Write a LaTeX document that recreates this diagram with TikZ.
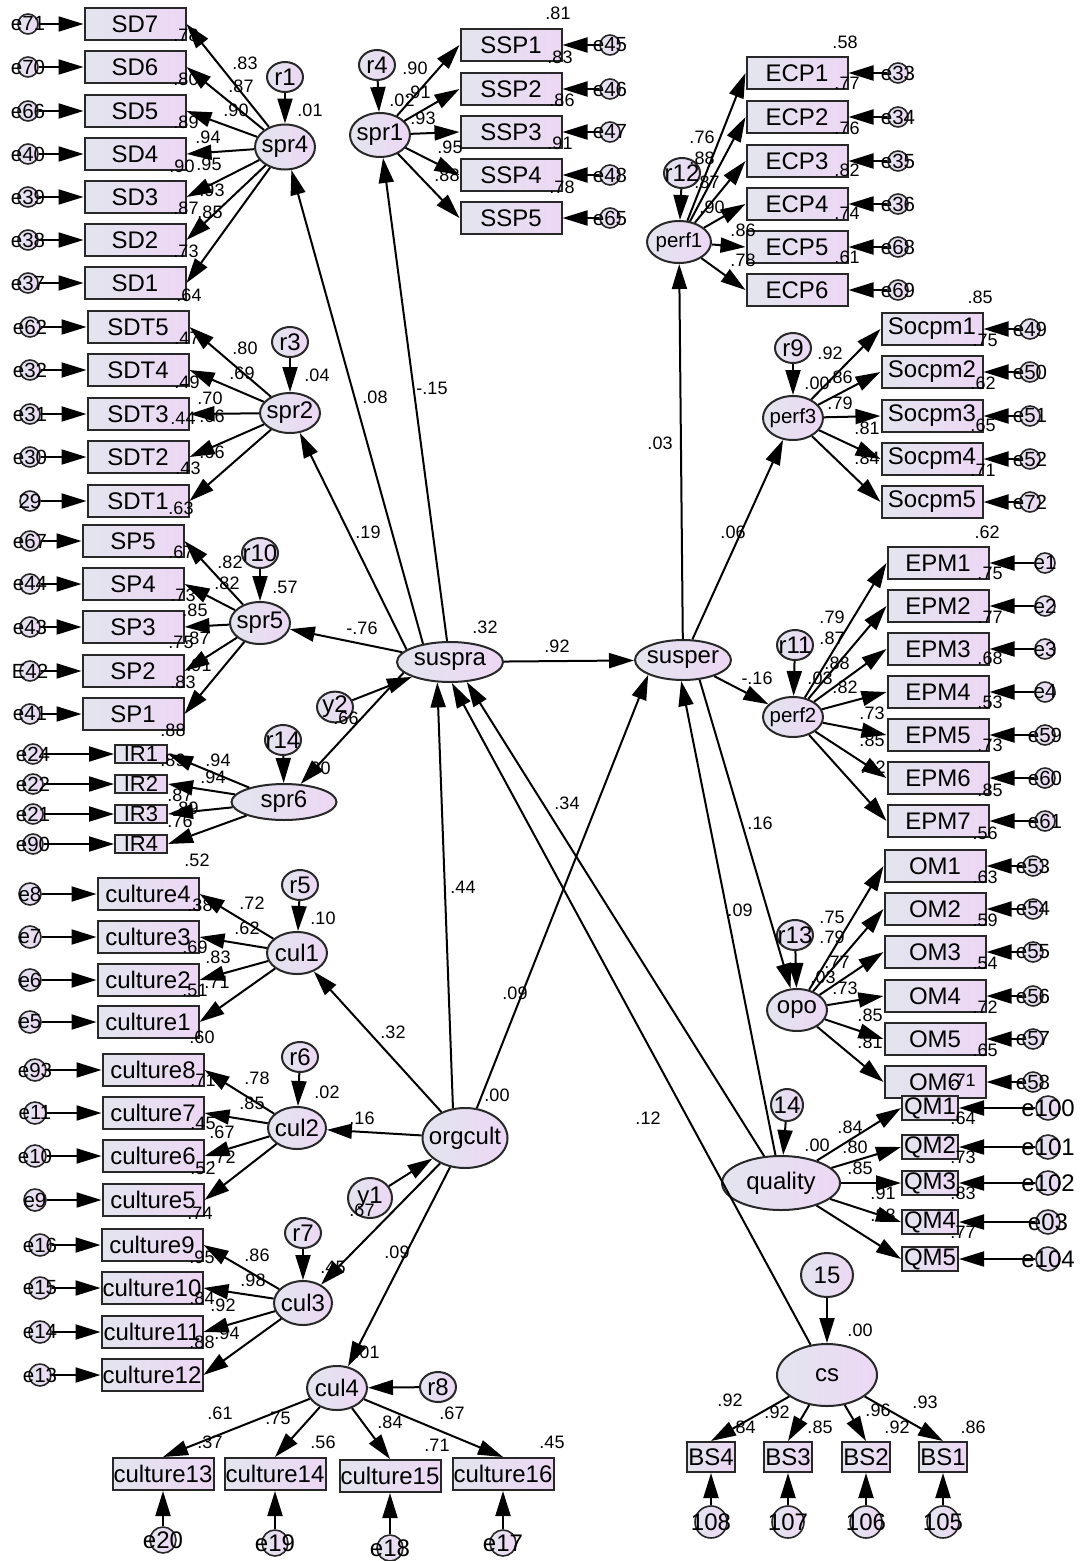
\documentclass[tikz,border=0pt]{standalone}
\usepackage{fontspec}
\setmainfont{Liberation Sans}
\usetikzlibrary{arrows.meta,shapes.geometric,shadings}
\definecolor{BoxL}{HTML}{E3E5EE}
\definecolor{BoxR}{HTML}{EDD7F4}
\definecolor{Edge}{HTML}{282828}
\newcommand{\zw}[1]{\makebox[0pt]{#1}}
\newcommand{\fsBig}{\fontsize{24}{26}\selectfont}
\newcommand{\fsMid}{\fontsize{20.5}{23}\selectfont}
\newcommand{\fsNum}{\fontsize{18}{20}\selectfont}
\tikzset{
  obs/.style={draw=Edge,line width=2pt,left color=BoxL,right color=BoxR,
    minimum width=101,minimum height=32,inner sep=0,font=\fsBig},
  lat/.style={ellipse,draw=Edge,line width=2pt,left color=BoxL,right color=BoxR,
    minimum width=60,minimum height=42,inner sep=0,font=\fsBig},
  res/.style={lat,minimum width=36,minimum height=30},
  err/.style={circle,draw=Edge,line width=1.6pt,left color=BoxL,right color=BoxR,
    minimum size=20,inner sep=0,font=\fsMid},
  arr/.style={-{Triangle[length=25pt,width=15pt]},line width=2pt},
  num/.style={font=\fsNum,inner sep=0}
}
\begin{document}
\begin{tikzpicture}[x=1pt,y=-1pt]
  \fill[white] (0,0) rectangle (1081,1561);
  \useasboundingbox (0,0) rectangle (1081,1561);

  % central latent variables
  \node[lat,minimum width=106,minimum height=40] (suspra) at (450,662) {\zw{suspra}};
  \node[lat,minimum width=96,minimum height=40] (susper) at (683,660) {\zw{susper}};
  \node[lat,minimum width=85,minimum height=60] (orgcult) at (465,1138) {\zw{orgcult}};
  \node[lat,minimum width=118,minimum height=54] (quality) at (781,1183) {\zw{quality}};
  \node[lat,minimum width=100,minimum height=62] (cs) at (827,1375) {\zw{cs}};
  \node[res] (y2) at (335,707) {\zw{y2}};
  \node[res,minimum width=44,minimum height=40] (y1) at (370,1198) {\zw{y1}};
  \node[res,minimum width=32,minimum height=32] (z14) at (787,1105) {\zw{14}};
  \node[res,minimum width=52,minimum height=44] (z15) at (827,1275) {\zw{15}};

  % spr4
  \node[lat,minimum height=45] (spr4) at (285,147) {\zw{spr4}};
  \node[res] (r1) at (285,77) {\zw{r1}};
  \draw[arr] (r1) -- (spr4);
  \foreach \n/\e/\y in {SD7/e71/24,SD6/e70/67,SD5/e66/111,SD4/e40/154,SD3/e39/197,SD2/e38/240,SD1/e37/283}{
    \node[obs] (\n) at (135,\y) {\zw{\n}};
    \node[err] (\n-e) at (28,\y) {\zw{\e}};
    \draw[arr] (\n-e) -- (\n);
    \draw[arr] (spr4) -- (\n.east);
  }

  % spr2
  \node[lat,minimum height=40] (spr2) at (290,413) {\zw{spr2}};
  \node[res] (r3) at (290,342) {\zw{r3}};
  \draw[arr] (r3) -- (spr2);
  \foreach \n/\e/\y in {SDT5/e62/327,SDT4/e32/370,SDT3/e31/414,SDT2/e30/457,SDT1/29/501}{
    \node[obs] (\n) at (138,\y) {\zw{\n}};
    \node[err] (\n-e) at (30,\y) {\zw{\e}};
    \draw[arr] (\n-e) -- (\n);
    \draw[arr] (spr2) -- (\n.east);
  }

  % spr5
  \node[lat] (spr5) at (260,623) {\zw{spr5}};
  \node[res] (r10) at (260,553) {\zw{r10}};
  \draw[arr] (r10) -- (spr5);
  \foreach \n/\e/\y in {SP5/e67/541,SP4/e44/584,SP3/e43/627,SP2/E42/671,SP1/e41/714}{
    \node[obs] (\n) at (133,\y) {\zw{\n}};
    \node[err] (\n-e) at (30,\y) {\zw{\e}};
    \draw[arr] (\n-e) -- (\n);
    \draw[arr] (spr5) -- (\n.east);
  }

  % spr6
  \node[lat,minimum width=105,minimum height=36] (spr6) at (284,802) {\zw{spr6}};
  \node[res] (r14) at (283,740) {\zw{r14}};
  \draw[arr] (r14) -- (spr6);
  \foreach \n/\e/\y in {IR1/e24/754,IR2/e22/784,IR3/e21/814,IR4/e90/844}{
    \node[obs,minimum width=52,minimum height=18,font=\fontsize{22}{24}\selectfont] (\n) at (141,\y) {\zw{\n}};
    \node[err] (\n-e) at (33,\y) {\zw{\e}};
    \draw[arr] (\n-e) -- (\n);
    \draw[arr] (spr6) -- (\n.east);
  }

  % spr1
  \node[lat,minimum height=44] (spr1) at (380,135) {\zw{spr1}};
  \node[res] (r4) at (377,65) {\zw{r4}};
  \draw[arr] (r4) -- (spr1);
  \foreach \n/\e/\y in {SSP1/e45/45,SSP2/e46/89,SSP3/e47/132,SSP4/e48/175,SSP5/e65/218}{
    \node[obs] (\n) at (511,\y) {\zw{\n}};
    \node[err] (\n-e) at (610,\y) {\zw{\e}};
    \draw[arr] (\n-e) -- (\n);
    \draw[arr] (spr1) -- (\n.west);
  }

  % perf1
  \node[lat,minimum width=64,font=\fsMid] (perf1) at (679,242) {\zw{perf1}};
  \node[res] (r12) at (682,173) {\zw{r12}};
  \draw[arr] (r12) -- (perf1);
  \foreach \n/\e/\y in {ECP1/e33/73,ECP2/e34/117,ECP3/e35/161,ECP4/e36/204,ECP5/e68/247,ECP6/e69/290}{
    \node[obs] (\n) at (797,\y) {\zw{\n}};
    \node[err] (\n-e) at (898,\y) {\zw{\e}};
    \draw[arr] (\n-e) -- (\n);
    \draw[arr] (perf1) -- (\n.west);
  }

  % perf3
  \node[lat,minimum height=44,font=\fsMid] (perf3) at (793,418) {\zw{perf3}};
  \node[res] (r9) at (793,348) {\zw{r9}};
  \draw[arr] (r9) -- (perf3);
  \foreach \n/\e/\y in {Socpm1/e49/329,Socpm2/e50/372,Socpm3/e51/416,Socpm4/e52/459,Socpm5/e72/502}{
    \node[obs] (\n) at (932,\y) {\zw{\n}};
    \node[err] (\n-e) at (1030,\y) {\zw{\e}};
    \draw[arr] (\n-e) -- (\n);
    \draw[arr] (perf3) -- (\n.west);
  }

  % perf2
  \node[lat,minimum height=40,font=\fsMid] (perf2) at (793,717) {\zw{perf2}};
  \node[res] (r11) at (795,645) {\zw{r11}};
  \draw[arr] (r11) -- (perf2);
  \foreach \n/\e/\y in {EPM1/e1/563,EPM2/e2/606,EPM3/e3/649,EPM4/e4/692,EPM5/e59/735,EPM6/e60/778,EPM7/e61/821}{
    \node[obs] (\n) at (938,\y) {\zw{\n}};
    \node[err] (\n-e) at (1045,\y) {\zw{\e}};
    \draw[arr] (\n-e) -- (\n);
    \draw[arr] (perf2) -- (\n.west);
  }

  % opo
  \node[lat] (opo) at (797,1010) {\zw{opo}};
  \node[res] (r13) at (795,935) {\zw{r13}};
  \draw[arr] (r13) -- (opo);
  \foreach \n/\e/\y in {OM1/e53/866,OM2/e54/909,OM3/e55/952,OM4/e56/996,OM5/e57/1039,OM6/e58/1082}{
    \node[obs] (\n) at (935,\y) {\zw{\n}};
    \node[err] (\n-e) at (1033,\y) {\zw{\e}};
    \draw[arr] (\n-e) -- (\n);
    \draw[arr] (opo) -- (\n.west);
  }

  % quality
  \draw[arr] (z14) -- (quality);
  \foreach \n/\e/\y in {QM1/e100/1108,QM2/e101/1147,QM3/e102/1183,QM4/e03/1222,QM5/e104/1259}{
    \node[obs,minimum width=56,minimum height=24] (\n) at (930,\y) {\zw{\n}};
    \node[err,minimum size=24,font=\fsBig] (\n-e) at (1048,\y) {\zw{\e}};
    \draw[arr] (\n-e) -- (\n);
    \draw[arr] (quality) -- (\n.west);
  }

  % cs
  \draw[arr] (z15) -- (cs);
  \foreach \n/\e/\x in {BS4/108/711,BS3/107/788,BS2/106/866,BS1/105/943}{
    \node[obs,minimum width=48,minimum height=30] (\n) at (\x,1457) {\zw{\n}};
    \node[err,minimum size=32,font=\fsBig] (\n-e) at (\x,1522) {\zw{\e}};
    \draw[arr] (\n-e) -- (\n);
    \draw[arr] (cs) -- (\n.north);
  }

  % cul1
  \node[lat] (cul1) at (297,953) {\zw{cul1}};
  \node[res] (r5) at (300,885) {\zw{r5}};
  \draw[arr] (r5) -- (cul1);
  \foreach \n/\e/\y in {culture4/e8/894,culture3/e7/937,culture2/e6/980,culture1/e5/1022}{
    \node[obs] (\n) at (148,\y) {\zw{\n}};
    \node[err,minimum size=22] (\n-e) at (30,\y) {\zw{\e}};
    \draw[arr] (\n-e) -- (\n);
    \draw[arr] (cul1) -- (\n.east);
  }

  % cul2
  \node[lat,minimum width=58] (cul2) at (297,1128) {\zw{cul2}};
  \node[res] (r6) at (300,1057) {\zw{r6}};
  \draw[arr] (r6) -- (cul2);
  \foreach \n/\e/\y in {culture8/e93/1070,culture7/e11/1113,culture6/e10/1156,culture5/e9/1200}{
    \node[obs] (\n) at (153,\y) {\zw{\n}};
    \node[err,minimum size=22] (\n-e) at (35,\y) {\zw{\e}};
    \draw[arr] (\n-e) -- (\n);
    \draw[arr] (cul2) -- (\n.east);
  }

  % cul3
  \node[lat,minimum width=58,minimum height=44] (cul3) at (303,1303) {\zw{cul3}};
  \node[res] (r7) at (303,1233) {\zw{r7}};
  \draw[arr] (r7) -- (cul3);
  \foreach \n/\e/\y in {culture9/e16/1245,culture10/e15/1288,culture11/e14/1332,culture12/e13/1375}{
    \node[obs] (\n) at (152,\y) {\zw{\n}};
    \node[err,minimum size=22] (\n-e) at (40,\y) {\zw{\e}};
    \draw[arr] (\n-e) -- (\n);
    \draw[arr] (cul3) -- (\n.east);
  }

  % cul4
  \node[lat,minimum height=44] (cul4) at (337,1388) {\zw{cul4}};
  \node[res] (r8) at (438,1387) {\zw{r8}};
  \draw[arr] (r8) -- (cul4);
  \foreach \n/\e/\x/\y/\ey in {culture13/e20/163/1474/1540,culture14/e19/275/1474/1543,culture15/e18/390/1476/1548,culture16/e17/503/1474/1543}{
    \node[obs] (\n) at (\x,\y) {\zw{\n}};
    \node[err,minimum size=26,font=\fsBig] (\n-e) at (\x,\ey) {\zw{\e}};
    \draw[arr] (\n-e) -- (\n);
    \draw[arr] (cul4) -- (\n.north);
  }

  % structural paths
  \draw[arr] (suspra) -- (susper);
  \draw[arr] (y2) -- (suspra);
  \draw[arr] (y1) -- (orgcult);
  \draw[arr] (suspra.146) -- (spr4);
  \draw[arr] (suspra.98) -- (spr1);
  \draw[arr] (suspra.164) -- (spr2);
  \draw[arr] (suspra) -- (spr5);
  \draw[arr] (suspra.193) -- (spr6);
  \draw[arr] (susper) -- (perf1);
  \draw[arr] (susper) -- (perf3);
  \draw[arr] (susper) -- (perf2);
  \draw[arr] (susper.310) -- (opo);
  \draw[arr] (orgcult.112) -- (suspra.238);
  \draw[arr] (quality) -- (suspra.310);
  \draw[arr] (cs) -- (suspra.275);
  \draw[arr] (orgcult) -- (susper.203);
  \draw[arr] (quality) -- (susper.265);
  \draw[arr] (orgcult) -- (cul1);
  \draw[arr] (orgcult) -- (cul2);
  \draw[arr] (orgcult) -- (cul3);
  \draw[arr] (orgcult) -- (cul4);

  % estimates
  \foreach \x/\y/\val [count=\k] in {245/63/.83,241/86/.87,236/110/.90,208/137/.94,209/164/.95,212/190/.93,210/212/.85,310/110/.01,
      186/35/.78,186/79/.80,186/122/.89,182/166/.90,186/208/.87,186/251/.73,189/295/.64}
    \node[num] (sd-\k) at (\x,\y) {\val};
  \foreach \x/\y/\val [count=\k] in {245/348/.80,242/373/.69,210/398/.70,212/416/.66,212/452/.66,317/375/.04,
      187/338/.47,187/382/.49,183/418/.44,188/468/.43,181/508/.63}
    \node[num] (sdt-\k) at (\x,\y) {\val};
  \foreach \x/\y/\val [count=\k] in {230/562/.82,227/583/.82,195/610/.85,197/638/.87,199/665/.91,285/587/.57,
      181/552/.67,183/595/.73,181/642/.75,183/682/.83,173/730/.88}
    \node[num] (sp-\k) at (\x,\y) {\val};
  \foreach \x/\y/\val [count=\k] in {218/760/.94,213/777/.94,180/795/.87,186/808/.89,180/821/.76,173/760/.89,318/768/.00}
    \node[num] (ir-\k) at (\x,\y) {\val};
  \foreach \x/\y/\val [count=\k] in {415/68/.90,418/92/.91,423/118/.93,450/147/.95,447/175/.88,402/100/.02,
      558/13/.81,560/57/.83,562/100/.86,560/143/.91,562/187/.78}
    \node[num] (ssp-\k) at (\x,\y) {\val};
  \foreach \x/\y/\val [count=\k] in {702/137/.76,702/158/.88,707/182/.87,712/207/.90,743/230/.86,743/260/.78,
      845/42/.58,847/83/.77,847/128/.76,847/170/.82,847/213/.74,847/257/.61}
    \node[num] (ecp-\k) at (\x,\y) {\val};
  \foreach \x/\y/\val [count=\k] in {830/353/.92,840/377/.86,840/403/.79,867/428/.81,867/458/.84,817/383/.00,
      980/297/.85,985/340/.75,983/383/.62,983/425/.65,983/470/.71}
    \node[num] (soc-\k) at (\x,\y) {\val};
  \foreach \x/\y/\val [count=\k] in {832/617/.79,832/638/.87,837/663/.88,845/687/.82,872/713/.73,872/740/.85,873/767/.92,820/678/.03,
      987/532/.62,990/573/.75,990/617/.77,990/658/.68,990/702/.53,990/745/.73,990/790/.85,985/833/.56}
    \node[num] (epm-\k) at (\x,\y) {\val};
  \foreach \x/\y/\val [count=\k] in {832/917/.75,832/937/.79,837/962/.77,845/988/.73,870/1015/.85,870/1042/.81,823/977/.03,
      985/877/.63,985/920/.59,985/963/.54,985/1007/.72,985/1050/.65,963/1080/.71}
    \node[num] (om-\k) at (\x,\y) {\val};
  \foreach \x/\y/\val [count=\k] in {850/1127/.84,855/1147/.80,860/1168/.85,883/1193/.91,883/1215/.88,817/1145/.00,
      963/1118/.64,963/1157/.73,963/1193/.83,963/1232/.77}
    \node[num] (qm-\k) at (\x,\y) {\val};
  \foreach \x/\y/\val [count=\k] in {730/1400/.92,777/1412/.92,878/1410/.96,925/1402/.93,860/1330/.00,
      743/1427/.84,820/1427/.85,897/1427/.92,973/1427/.86}
    \node[num] (bs-\k) at (\x,\y) {\val};
  \foreach \x/\y/\val [count=\k] in {252/903/.72,247/928/.62,218/957/.83,217/982/.71,323/918/.10,
      197/860/.52,200/905/.38,195/947/.69,195/990/.51,202/1037/.60}
    \node[num] (cA-\k) at (\x,\y) {\val};
  \foreach \x/\y/\val [count=\k] in {257/1078/.78,252/1103/.85,222/1132/.67,223/1157/.72,327/1092/.02,
      203/1080/.71,203/1123/.45,203/1168/.52,200/1213/.74}
    \node[num] (cB-\k) at (\x,\y) {\val};
  \foreach \x/\y/\val [count=\k] in {257/1255/.86,253/1280/.98,223/1305/.92,227/1333/.94,333/1267/.45,
      202/1257/.95,202/1298/.84,202/1342/.88}
    \node[num] (cC-\k) at (\x,\y) {\val};
  \foreach \x/\y/\val [count=\k] in {220/1413/.61,278/1418/.75,390/1422/.84,452/1413/.67,367/1352/.01,
      210/1442/.37,323/1442/.56,437/1445/.71,552/1442/.45}
    \node[num] (cD-\k) at (\x,\y) {\val};
  \foreach \x/\y/\val [count=\k] in {375/397/.08,432/388/-.15,368/532/.19,362/628/-.76,485/627/.32,557/646/.92,346/718/.66,
      660/443/.03,733/532/.06,757/678/-.16,760/823/.16,740/910/.09,567/803/.34,463/887/.44,515/993/.09,
      648/1118/.12,393/1032/.32,362/1118/.16,497/1095/.00,362/1210/.67,397/1252/.09}
    \node[num] (st-\k) at (\x,\y) {\val};
\end{tikzpicture}
\end{document}
